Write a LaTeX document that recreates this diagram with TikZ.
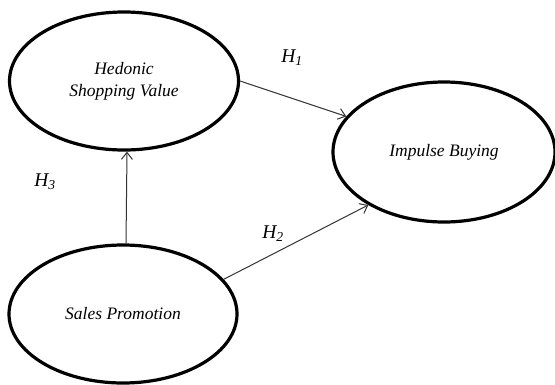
\documentclass[tikz,border=0pt]{standalone}
\usepackage{fontspec}
\setmainfont{Liberation Serif}
\usetikzlibrary{shapes.geometric,arrows.meta}
\begin{document}
\begin{tikzpicture}[x=1pt,y=-1pt,
  construct/.style={ellipse,draw,line width=3.2pt,inner sep=0pt,
    font=\fontsize{17.5}{22}\selectfont\itshape,align=center},
  link/.style={line width=1pt,draw=black!80,-{Straight Barb[length=7pt,width=11pt]}},
  hyp/.style={font=\fontsize{19.5}{21}\selectfont\itshape}]
\useasboundingbox (0,0) rectangle (555,384);
\node[construct,minimum width=229pt,minimum height=138pt] (hed) at (124,81) {Hedonic\\Shopping Value};
\node[construct,minimum width=228pt,minimum height=138pt] (sp) at (123,314) {Sales Promotion};
\node[construct,minimum width=222pt,minimum height=140pt] (imp) at (444,152) {Impulse Buying};
\draw[link] (hed.east) -- (imp.160);
\draw[link] (sp.19) -- (imp.215);
\draw[link] ([xshift=3pt]sp.north) -- ([xshift=3pt]hed.south);
\node[hyp] (h1) at (292,58) {H\textsubscript{1}};
\node[hyp] (h2) at (273,234) {H\textsubscript{2}};
\node[hyp] (h3) at (45,182) {H\textsubscript{3}};
\end{tikzpicture}
\end{document}
